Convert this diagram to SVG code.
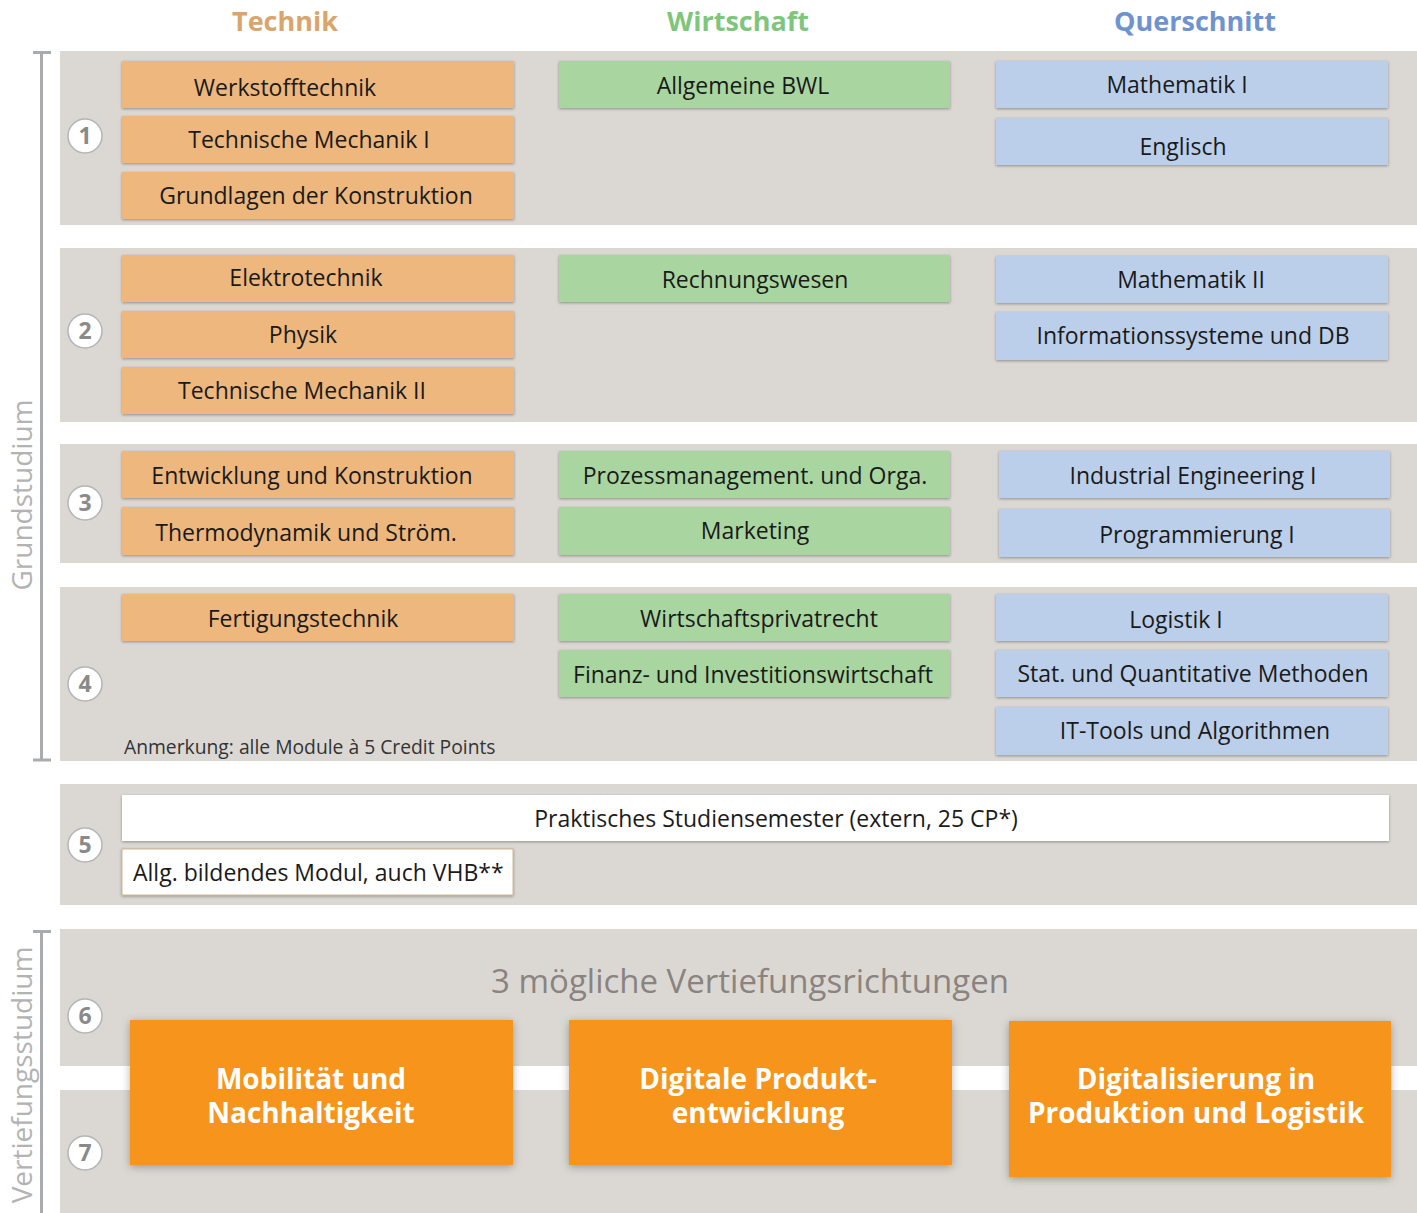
<svg xmlns="http://www.w3.org/2000/svg" width="1417" height="1213" viewBox="0 0 1417 1213">
<style>
.band{fill:#dbd8d4}
.mod{filter:url(#sh)}
.t{fill:#eeb77d}
.w{fill:#a9d6a0}
.q{fill:#bbcfea}
.wh{fill:#ffffff}
.lbl{font-family:"Open Sans","Noto Sans",sans-serif;font-size:23px;fill:#1a1a1a;text-anchor:middle}
.left{text-anchor:start}
.hd{font-family:"Open Sans","Noto Sans",sans-serif;font-size:27px;font-weight:bold;text-anchor:middle}
.num{fill:#ffffff;stroke:#b5b5b5;stroke-width:1.5}
.numt{font-family:"Open Sans","Noto Sans",sans-serif;font-size:23px;font-weight:bold;fill:#8a8a8a;text-anchor:middle}
.side{font-family:"Open Sans","Noto Sans",sans-serif;font-size:28px;fill:#b3b3b3;text-anchor:middle}
.vt{fill:#f7941e;filter:url(#sh2)}
.vtl{font-family:"Open Sans","Noto Sans",sans-serif;font-size:28px;font-weight:bold;fill:#ffffff;text-anchor:middle}
.br{stroke:#a9abae;stroke-width:3;fill:none}
</style>
<defs>
<filter id="sh" x="-5%" y="-20%" width="110%" height="140%">
<feDropShadow dx="0" dy="1" stdDeviation="1.5" flood-color="#000" flood-opacity="0.35"/>
</filter>
<filter id="sh2" x="-5%" y="-10%" width="110%" height="125%">
<feDropShadow dx="0" dy="2" stdDeviation="4" flood-color="#000" flood-opacity="0.3"/>
</filter>
</defs>
<rect width="1417" height="1213" fill="#ffffff"/>

<g id="headers">
<text class="hd" x="285" y="31" fill="#d9a56c">Technik</text>
<text class="hd" x="738" y="31" fill="#7ec67b">Wirtschaft</text>
<text class="hd" x="1195" y="31" fill="#6f93cf">Querschnitt</text>
</g>

<g id="bands">
<rect class="band" x="60" y="51" width="1357" height="174"/>
<rect class="band" x="60" y="248" width="1357" height="174"/>
<rect class="band" x="60" y="444" width="1357" height="119"/>
<rect class="band" x="60" y="587" width="1357" height="174"/>
<rect class="band" x="60" y="784" width="1357" height="121"/>
<rect class="band" x="60" y="929" width="1357" height="284"/>
<rect x="60" y="1066" width="1357" height="24" fill="#ffffff"/>
</g>

<g id="brackets">
<path class="br" d="M33 52.5H51M41.5 52.5V760M33 760H51"/>
<path class="br" d="M33 931.5H51M41.5 931.5V1213"/>
<text class="side" transform="translate(32,495) rotate(-90)">Grundstudium</text>
<text class="side" transform="translate(32,1075) rotate(-90)">Vertiefungsstudium</text>
</g>

<g id="semesters">
<g id="s1"><circle class="num" cx="85" cy="136" r="17"/><text class="numt" x="85" y="144">1</text></g>
<g id="s2"><circle class="num" cx="85" cy="331" r="17"/><text class="numt" x="85" y="339">2</text></g>
<g id="s3"><circle class="num" cx="85" cy="503" r="17"/><text class="numt" x="85" y="511">3</text></g>
<g id="s4"><circle class="num" cx="85" cy="684" r="17"/><text class="numt" x="85" y="692">4</text></g>
<g id="s5"><circle class="num" cx="85" cy="845" r="17"/><text class="numt" x="85" y="853">5</text></g>
<g id="s6"><circle class="num" cx="85" cy="1016" r="17"/><text class="numt" x="85" y="1024">6</text></g>
<g id="s7"><circle class="num" cx="85" cy="1153" r="17"/><text class="numt" x="85" y="1161">7</text></g>
</g>

<g id="sem1">
<g id="werkstofftechnik"><rect class="mod t" x="122" y="61" width="392" height="47"/><text class="lbl" x="285" y="96">Werkstofftechnik</text></g>
<g id="tm1"><rect class="mod t" x="122" y="116" width="392" height="47"/><text class="lbl" x="309" y="148">Technische Mechanik I</text></g>
<g id="gdk"><rect class="mod t" x="122" y="172" width="392" height="47"/><text class="lbl" x="316" y="204">Grundlagen der Konstruktion</text></g>
<g id="bwl"><rect class="mod w" x="559" y="61" width="391" height="47"/><text class="lbl" x="743" y="94">Allgemeine BWL</text></g>
<g id="mathe1"><rect class="mod q" x="996" y="61" width="392" height="47"/><text class="lbl" x="1177" y="93">Mathematik I</text></g>
<g id="englisch"><rect class="mod q" x="996" y="118" width="392" height="47"/><text class="lbl" x="1183" y="155">Englisch</text></g>
</g>

<g id="sem2">
<g id="elektro"><rect class="mod t" x="122" y="255" width="392" height="47"/><text class="lbl" x="306" y="286">Elektrotechnik</text></g>
<g id="physik"><rect class="mod t" x="122" y="311" width="392" height="47"/><text class="lbl" x="303" y="343">Physik</text></g>
<g id="tm2"><rect class="mod t" x="122" y="367" width="392" height="47"/><text class="lbl" x="302" y="399">Technische Mechanik II</text></g>
<g id="rewe"><rect class="mod w" x="559" y="255" width="391" height="47"/><text class="lbl" x="755" y="288">Rechnungswesen</text></g>
<g id="mathe2"><rect class="mod q" x="996" y="256" width="392" height="47"/><text class="lbl" x="1191" y="288">Mathematik II</text></g>
<g id="infosys"><rect class="mod q" x="996" y="312" width="392" height="48"/><text class="lbl" x="1193" y="344">Informationssysteme und DB</text></g>
</g>

<g id="sem3">
<g id="euk"><rect class="mod t" x="122" y="451" width="392" height="47"/><text class="lbl" x="312" y="484">Entwicklung und Konstruktion</text></g>
<g id="thermo"><rect class="mod t" x="122" y="507" width="392" height="48"/><text class="lbl" x="306" y="541">Thermodynamik und Ström.</text></g>
<g id="prozess"><rect class="mod w" x="559" y="451" width="391" height="47"/><text class="lbl" x="755" y="484">Prozessmanagement. und Orga.</text></g>
<g id="marketing"><rect class="mod w" x="559" y="507" width="391" height="48"/><text class="lbl" x="755" y="539">Marketing</text></g>
<g id="ie1"><rect class="mod q" x="999" y="451" width="391" height="47"/><text class="lbl" x="1193" y="484">Industrial Engineering I</text></g>
<g id="prog1"><rect class="mod q" x="999" y="509" width="391" height="48"/><text class="lbl" x="1197" y="543">Programmierung I</text></g>
</g>

<g id="sem4">
<g id="fertigung"><rect class="mod t" x="122" y="594" width="392" height="47"/><text class="lbl" x="303" y="627">Fertigungstechnik</text></g>
<g id="wpr"><rect class="mod w" x="559" y="594" width="391" height="47"/><text class="lbl" x="759" y="627">Wirtschaftsprivatrecht</text></g>
<g id="finanz"><rect class="mod w" x="559" y="650" width="391" height="47"/><text class="lbl" x="753" y="683">Finanz- und Investitionswirtschaft</text></g>
<g id="logistik1"><rect class="mod q" x="996" y="594" width="392" height="47"/><text class="lbl" x="1176" y="628">Logistik I</text></g>
<g id="stat"><rect class="mod q" x="996" y="650" width="392" height="47"/><text class="lbl" x="1193" y="682">Stat. und Quantitative Methoden</text></g>
<g id="ittools"><rect class="mod q" x="996" y="707" width="392" height="48"/><text class="lbl" x="1195" y="739">IT-Tools und Algorithmen</text></g>
<text x="124" y="754" font-family="Open Sans,Noto Sans,sans-serif" font-size="19.3" fill="#333333">Anmerkung: alle Module à 5 Credit Points</text>
</g>

<g id="sem5">
<g id="praxis"><rect class="mod wh" x="122" y="795" width="1267" height="46"/><text class="lbl" x="776" y="827">Praktisches Studiensemester (extern, 25 CP*)</text></g>
<g id="allg"><rect class="mod wh" x="122" y="849" width="391" height="46" stroke="#c9a77a" stroke-width="0.8"/><text class="lbl left" x="133" y="881">Allg. bildendes Modul, auch VHB**</text></g>
</g>

<g id="vertiefung">
<text x="750" y="993" font-family="Open Sans,Noto Sans,sans-serif" font-size="33" fill="#8a8380" text-anchor="middle">3 mögliche Vertiefungsrichtungen</text>
<g id="mobil"><rect class="vt" x="130" y="1020" width="383" height="145"/><text class="vtl" x="311" y="1089">Mobilität und<tspan x="311" dy="34">Nachhaltigkeit</tspan></text></g>
<g id="dpe"><rect class="vt" x="569" y="1020" width="383" height="145"/><text class="vtl" x="758" y="1089">Digitale Produkt-<tspan x="758" dy="34">entwicklung</tspan></text></g>
<g id="dpl"><rect class="vt" x="1009" y="1021" width="382" height="156"/><text class="vtl" x="1196" y="1089">Digitalisierung in<tspan x="1196" dy="34">Produktion und Logistik</tspan></text></g>
</g>

<g id="connectors"></g>
</svg>
